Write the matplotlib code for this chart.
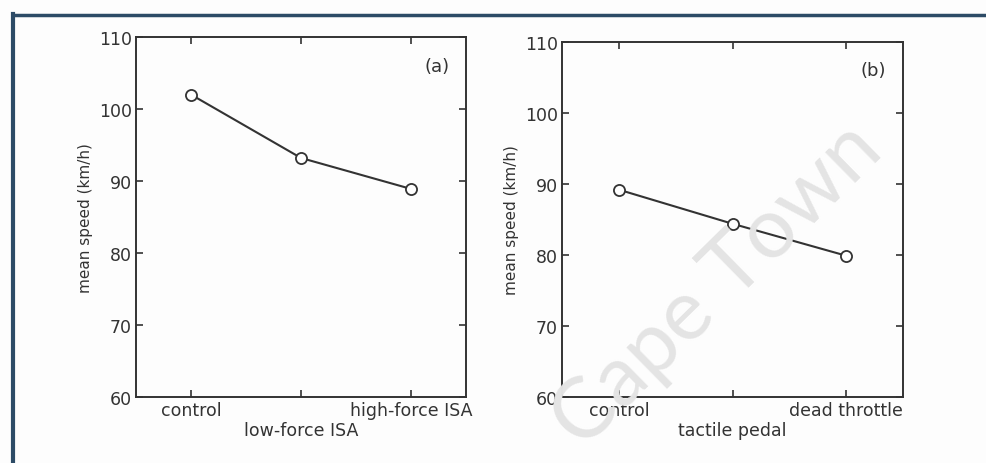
import matplotlib.pyplot as plt
from matplotlib.lines import Line2D

# panel (a): ISA conditions
isa_labels = ['control', '\nlow-force ISA', 'high-force ISA']
isa_speed = [102.0, 93.2, 88.9]

# panel (b): tactile pedal conditions
pedal_labels = ['control', '\ntactile pedal', 'dead throttle']
pedal_speed = [89.2, 84.4, 79.9]

yticks = [60, 70, 80, 90, 100, 110]

plt.rcParams['font.family'] = ['DejaVu Sans']

fig = plt.figure(figsize=(9.86, 4.64), dpi=100)
fig.patch.set_facecolor('#fdfdfd')

ax1 = fig.add_axes([136 / 986, 1 - 398 / 464, 330 / 986, 360 / 464])
ax2 = fig.add_axes([562 / 986, 1 - 398 / 464, 341 / 986, 355 / 464])

for ax, labels, vals, tag in [(ax1, isa_labels, isa_speed, '(a)'),
                              (ax2, pedal_labels, pedal_speed, '(b)')]:
    x = list(range(1, len(vals) + 1))
    ax.set_facecolor('none')
    ax.plot(x, vals, color='#333333', lw=1.5, marker='o', ms=8,
            mfc='white', mec='#333333', mew=1.3)
    ax.set_xlim(0.5, 3.5)
    ax.set_ylim(60, 110)
    ax.set_xticks(x)
    ax.set_xticklabels(labels)
    ax.set_yticks(yticks)
    ax.tick_params(direction='in', top=True, right=True, length=5,
                   width=1.2, labelsize=12.5, colors='#333333', pad=3)
    for s in ax.spines.values():
        s.set_linewidth(1.4)
        s.set_color('#333333')
    ax.set_ylabel('mean speed (km/h)', fontsize=11, color='#333333', labelpad=4)
    ax.text(0.95, 0.92, tag, transform=ax.transAxes, ha='right', va='center',
            fontsize=13, color='#333333')
    for t in ax.get_xticklabels():
        t.set_linespacing(1.15)

# watermark
fig.text(0.727, 0.385, 'Cape Town', rotation=44.5, fontsize=61, color='#e4e4e4',
         family=['Lato', 'DejaVu Sans'],
         ha='center', va='center', zorder=5)

# scan frame
fig.add_artist(Line2D([13 / 986, 13 / 986], [0, 1 - 15 / 464], color='#2d4b66',
                      lw=3, transform=fig.transFigure))
fig.add_artist(Line2D([13 / 986, 1], [1 - 16 / 464, 1 - 16 / 464], color='#2d4b66',
                      lw=2.5, transform=fig.transFigure))

fig.savefig('out.png', dpi=100, facecolor=fig.get_facecolor())
